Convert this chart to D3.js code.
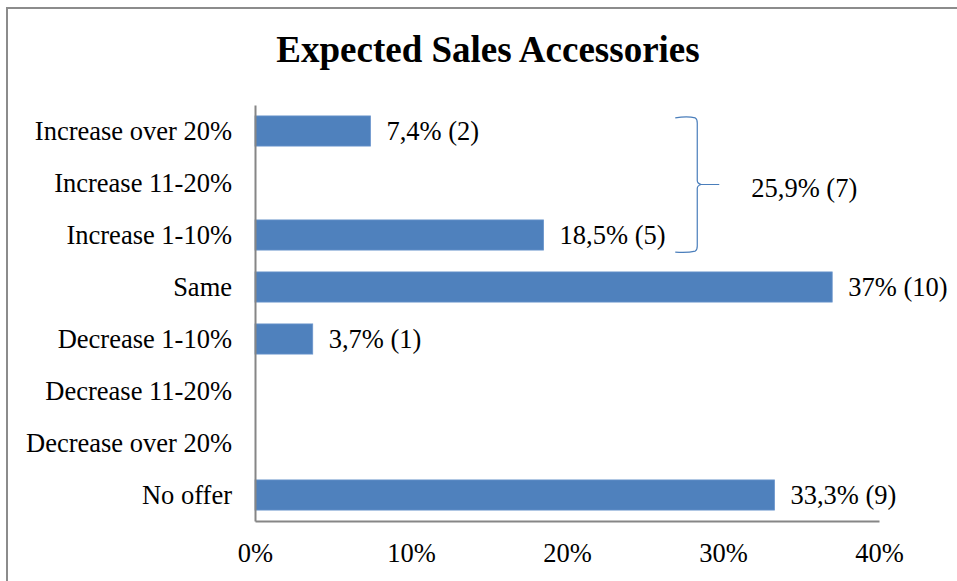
<!DOCTYPE html>
<html>
<head>
<meta charset="utf-8">
<script src="https://cdn.jsdelivr.net/npm/d3@7"></script>
<style>
  html, body { margin: 0; padding: 0; background: #fff; }
  svg { display: block; }
  text { font-family: "Liberation Serif", "Times New Roman", serif; fill: #000; }
</style>
</head>
<body>
<svg id="chart" width="957" height="581"></svg>
<script>
// Survey answers: expected sales of accessories
const categories = [
  "Increase over 20%",
  "Increase 11-20%",
  "Increase 1-10%",
  "Same",
  "Decrease 1-10%",
  "Decrease 11-20%",
  "Decrease over 20%",
  "No offer"
];
const shares = [7.4, 0, 18.5, 37, 3.7, 0, 0, 33.3];     // percent of respondents
const counts = [2, 0, 5, 10, 1, 0, 0, 9];               // number of respondents
const valueLabels = ["7,4% (2)", "", "18,5% (5)", "37% (10)", "3,7% (1)", "", "", "33,3% (9)"];
const xTicks = [0, 10, 20, 30, 40];
const tickLabels = ["0%", "10%", "20%", "30%", "40%"];

// Bracket grouping the three "Increase" answers
const groupFirst = "Increase over 20%";
const groupLast = "Increase 1-10%";
const groupLabel = "25,9% (7)";

const FONT = "'Liberation Serif', 'Times New Roman', serif";
const LABEL_SIZE = "26.5px";

const svg = d3.select("#chart");

// Chart frame (left and top edges are inside the window)
svg.append("rect")
  .attr("x", 7).attr("y", 8)
  .attr("width", 980).attr("height", 600)
  .attr("fill", "none")
  .attr("stroke", "#8c8c8c")
  .attr("stroke-width", 2);

svg.append("text")
  .attr("x", 488).attr("y", 62)
  .attr("text-anchor", "middle")
  .style("font-size", "37px")
  .style("font-weight", "bold")
  .text("Expected Sales Accessories");

const x = d3.scaleLinear().domain([0, 40]).range([255, 879]);
const y = d3.scaleBand().domain(categories).range([105, 521]).paddingInner(0.42).paddingOuter(0.21);

// Bars
svg.append("g").selectAll("rect")
  .data(categories)
  .join("rect")
  .attr("x", x(0))
  .attr("y", d => y(d))
  .attr("width", (d, i) => x(shares[i]) - x(0))
  .attr("height", y.bandwidth())
  .attr("fill", "#4f81bd")
  .attr("stroke", "#6a95cc")
  .attr("stroke-width", 0.8)
  .attr("display", (d, i) => shares[i] > 0 ? null : "none");

// Value labels
svg.append("g").selectAll("text")
  .data(categories)
  .join("text")
  .attr("x", (d, i) => x(shares[i]) + 16)
  .attr("y", d => y(d) + y.bandwidth() / 2 + 9)
  .style("font-size", LABEL_SIZE)
  .text((d, i) => valueLabels[i]);

// Category axis
const yAxis = d3.axisLeft(y).tickSize(0).tickPadding(23);
const gy = svg.append("g").attr("transform", `translate(${x(0)},0)`).call(yAxis);
gy.select(".domain").attr("stroke", "#868686").attr("stroke-width", 2);
gy.selectAll(".tick text")
  .style("font-size", LABEL_SIZE)
  .style("font-family", FONT)
  .attr("dy", "0.33em");

// Value axis
const xAxis = d3.axisBottom(x).tickValues(xTicks).tickSize(0).tickPadding(22)
  .tickFormat((d, i) => tickLabels[i]);
const gx = svg.append("g").attr("transform", `translate(0,${y.range()[1]})`).call(xAxis);
gx.select(".domain").attr("stroke", "#868686").attr("stroke-width", 2);
gx.selectAll(".tick text")
  .style("font-size", LABEL_SIZE)
  .style("font-family", FONT);

// Curly bracket over the increase answers
const bTop = y(groupFirst) + 1;
const bBot = y(groupLast) + y.bandwidth() + 2;
const bMid = (bTop + bBot) / 2;
const bx = x(28.35);
const bLeft = bx - 22, r = 4, tip = 22;
const bracePath = d3.path();
bracePath.moveTo(bLeft, bTop + 1);
bracePath.quadraticCurveTo(bx - 10, bTop - 1, bx - 2, bTop + 1);
bracePath.quadraticCurveTo(bx, bTop + 2, bx, bTop + r + 2);
bracePath.lineTo(bx, bMid - r);
bracePath.quadraticCurveTo(bx, bMid - 1, bx + r, bMid);
bracePath.lineTo(bx + tip, bMid);
bracePath.moveTo(bx + r, bMid);
bracePath.quadraticCurveTo(bx, bMid + 1, bx, bMid + r);
bracePath.lineTo(bx, bBot - r - 2);
bracePath.quadraticCurveTo(bx, bBot - 2, bx - 2, bBot - 1);
bracePath.quadraticCurveTo(bx - 10, bBot + 1, bLeft, bBot);
svg.append("path")
  .attr("d", bracePath.toString())
  .attr("fill", "none")
  .attr("stroke", "#4a7ebb")
  .attr("stroke-width", 1.2);

svg.append("text")
  .attr("x", bx + 54).attr("y", bMid + 12)
  .style("font-size", LABEL_SIZE)
  .text(groupLabel);
</script>
</body>
</html>
